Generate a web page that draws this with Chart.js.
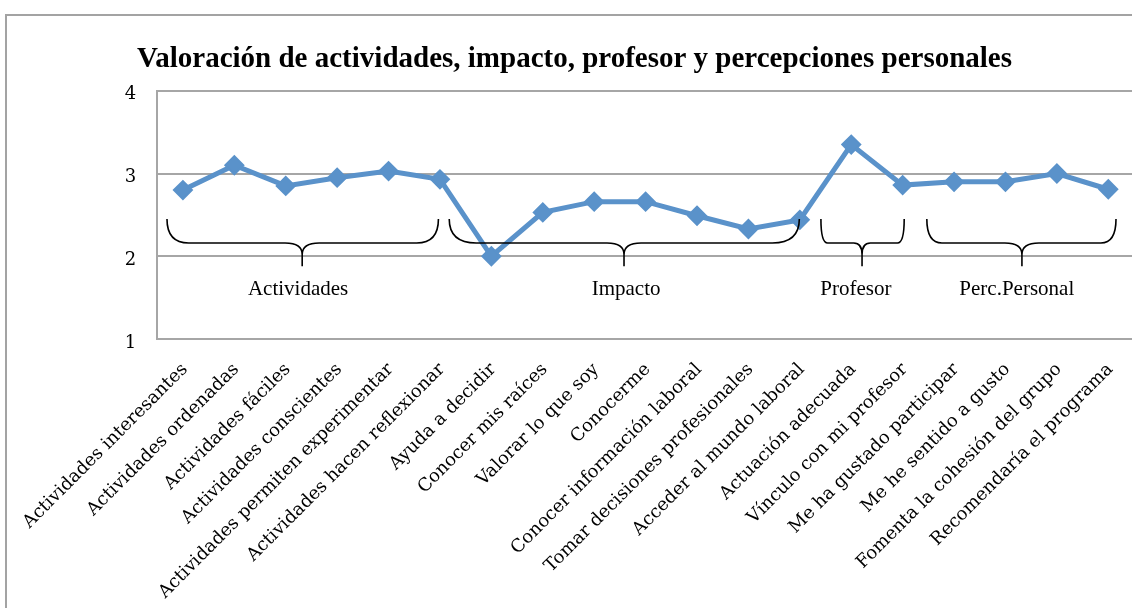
<!DOCTYPE html>
<html>
<head>
<meta charset="utf-8">
<script src="https://cdn.jsdelivr.net/npm/chart.js@4/dist/chart.umd.min.js"></script>
<style>
  html, body { margin: 0; padding: 0; background: #fff; overflow: hidden; width: 1132px; height: 608px; }
  #frame { position: absolute; left: 5px; top: 14px; width: 2000px; height: 2000px; border: 2px solid #a3a3a3; box-sizing: border-box; }
  #wrap { position: absolute; left: 0; top: 0; width: 1160px; height: 608px; }
</style>
</head>
<body>
<div id="frame"></div>
<div id="wrap"><canvas id="c" width="1160" height="608"></canvas></div>
<script>
const titleText = 'Valoración de actividades, impacto, profesor y percepciones personales';
const categories = [
  'Actividades interesantes',
  'Actividades ordenadas',
  'Actividades fáciles',
  'Actividades conscientes',
  'Actividades permiten experimentar',
  'Actividades hacen reflexionar',
  'Ayuda a decidir',
  'Conocer mis raíces',
  'Valorar lo que soy',
  'Conocerme',
  'Conocer información laboral',
  'Tomar decisiones profesionales',
  'Acceder al mundo laboral',
  'Actuación adecuada',
  'Vínculo con mi profesor',
  'Me ha gustado participar',
  'Me he sentido a gusto',
  'Fomenta la cohesión del grupo',
  'Recomendaría el programa'
];
const values = [2.8, 3.1, 2.85, 2.95, 3.03, 2.93, 2.0, 2.53, 2.66, 2.66, 2.49, 2.33, 2.44, 3.35, 2.86, 2.9, 2.9, 3.0, 2.81];
const yTicks = [1, 2, 3, 4];

// Group braces (annotation), in category-index units
const groupLabels = ['Actividades', 'Impacto', 'Profesor', 'Perc.Personal'];
const groupFrom = [-0.31, 5.18, 12.41, 14.47];
const groupTo = [4.97, 11.99, 14.03, 18.15];
const groupTip = [2.32, 8.58, 13.21, 16.32];
const groupLabelAt = [2.24, 8.62, 13.09, 16.22];
const braceTopValue = 2.45, braceMidValue = 2.16, braceTipValue = 1.88, braceLabelValue = 1.6;

const braces = {
  id: 'braces',
  afterDatasetsDraw(chart) {
    const ctx = chart.ctx, x = chart.scales.x, y = chart.scales.y;
    const px = v => x.getPixelForDecimal((v + 0.5) / categories.length);
    const yT = y.getPixelForValue(braceTopValue);
    const yM = y.getPixelForValue(braceMidValue);
    const yP = y.getPixelForValue(braceTipValue);
    const yL = y.getPixelForValue(braceLabelValue);
    ctx.save();
    ctx.strokeStyle = '#000';
    ctx.lineWidth = 1.6;
    groupLabels.forEach((name, i) => {
      const x1 = px(groupFrom[i]), x2 = px(groupTo[i]), cx = px(groupTip[i]);
      const w = x2 - x1;
      const rc = Math.min(27, w * 0.08);
      const rt = Math.min(17, w * 0.1);
      const yc = yM + (yP - yM) * 0.5;
      ctx.beginPath();
      ctx.moveTo(x1, yT);
      ctx.quadraticCurveTo(x1, yM, x1 + rc, yM);
      ctx.lineTo(cx - rt, yM);
      ctx.quadraticCurveTo(cx, yM, cx, yc);
      ctx.lineTo(cx, yP);
      ctx.moveTo(cx, yc);
      ctx.quadraticCurveTo(cx, yM, cx + rt, yM);
      ctx.lineTo(x2 - rc, yM);
      ctx.quadraticCurveTo(x2, yM, x2, yT);
      ctx.stroke();
      ctx.fillStyle = '#000';
      ctx.font = '21px "Liberation Serif"';
      ctx.textAlign = 'center';
      ctx.textBaseline = 'middle';
      ctx.fillText(name, px(groupLabelAt[i]), yL);
    });
    ctx.restore();
  }
};

new Chart(document.getElementById('c'), {
  type: 'line',
  data: {
    labels: categories,
    datasets: [{
      data: values,
      borderColor: '#5A92CA',
      backgroundColor: '#5A92CA',
      borderWidth: 5,
      pointStyle: 'rectRot',
      pointRadius: 9,
      pointBorderWidth: 2,
      pointBackgroundColor: '#5A92CA',
      pointBorderColor: '#5A92CA',
      tension: 0
    }]
  },
  options: {
    responsive: false,
    animation: false,
    devicePixelRatio: 1,
    layout: { padding: { left: 15, right: 26, top: 0, bottom: 0 } },
    plugins: {
      legend: { display: false },
      tooltip: { enabled: false },
      title: {
        display: true,
        text: titleText,
        color: '#000',
        font: { family: '"Liberation Serif"', size: 29, weight: 'bold', lineHeight: 1.2 },
        padding: { top: 42, bottom: 14 }
      }
    },
    scales: {
      x: {
        type: 'category',
        offset: true,
        grid: { display: false, drawTicks: false },
        border: { display: false },
        afterFit(s) { s.height = 269; },
        ticks: {
          autoSkip: false,
          maxRotation: 45,
          minRotation: 45,
          padding: 20,
          labelOffset: 2,
          color: '#000',
          font: { family: '"DejaVu Serif"', size: 18 }
        }
      },
      y: {
        min: 1,
        max: 4,
        afterFit(s) { s.width = 142; },
        afterBuildTicks(s) { s.ticks = yTicks.map(v => ({ value: v })); },
        grid: { color: '#A6A6A6', lineWidth: 2, drawTicks: false },
        border: { display: true, color: '#A6A6A6', width: 2 },
        ticks: {
          padding: 21,
          labelOffset: 4,
          color: '#000',
          font: { family: '"DejaVu Serif"', size: 18 }
        }
      }
    }
  },
  plugins: [braces]
});
</script>
</body>
</html>
